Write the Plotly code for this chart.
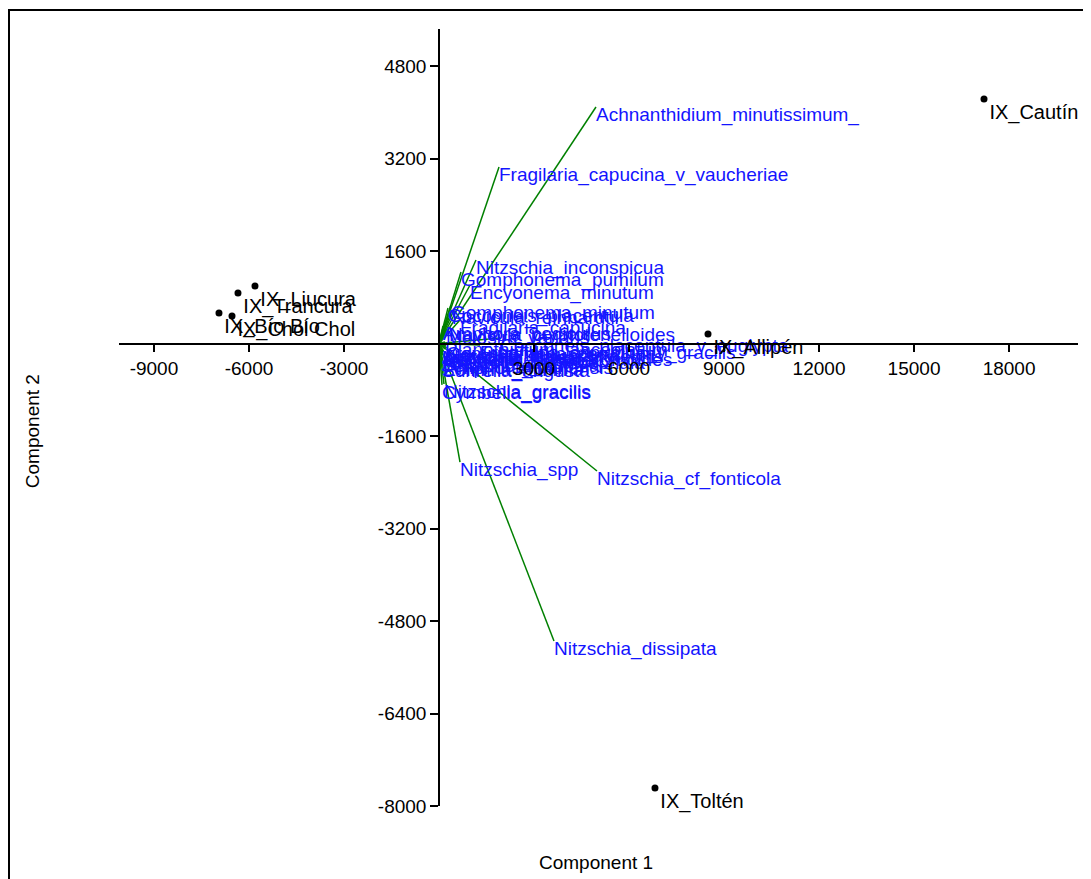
import plotly.graph_objects as go

# ---- Sample scores (Component 1, Component 2) ----
sample_names = ["IX_Cautín", "IX_Toltén", "IX_Allipén", "IX_Liucura",
                "IX_Trancura", "IX_Bío Bío", "IX_Chol Chol"]
sample_x = [17209, 6820, 8494, -5810, -6347, -6947, -6536]
sample_y = [4230, -7690, 164, 995, 874, 528, 476]

# ---- Species loadings (biplot vectors) ----
species_names = [
    "Achnanthidium_minutissimum_", "Fragilaria_capucina_v_vaucheriae",
    "Nitzschia_inconspicua", "Gomphonema_pumilum", "Encyonema_minutum",
    "Gomphonema_minutum", "Cocconeis_placentula", "Navicula_reinhardtii",
    "Fragilaria_capucina", "Navicula_cryptotenelloides", "Amphora_pediculus",
    "Melosira_varians", "Planothidium_lanceolatum",
    "Fragilaria_capucina_v_gracilis", "Cocconeis_placentula_v_euglypta",
    "Navicula_tripunctata", "Nitzschia_palea", "Reimeria_sinuata",
    "Gomphonema_parvulum", "Navicula_cryptocephala", "Sellaphora_pupula",
    "Amphora_inariensis", "Surirella_angusta", "Achnanthes_subatomoides",
    "Nitzschia_palea_v_debilis", "Eolimna_minima",
    "Nitzschia_gracilis", "Cymbella_gracilis", "Nitzschia_spp",
    "Nitzschia_cf_fonticola", "Nitzschia_dissipata",
]
species_x = [4957, 1895, 1168, 695, 979, 379, 284, 410, 663, 316, 126,
             221, 189, 1295, 1926, 253, 95, 158, 221, 126, 63, 189, 95,
             126, 189, 126, 158, 95, 663, 4989, 3631]
species_y = [4091, 3053, 1444, 1237, 1012, 662, 614, 579, 407, 285, 303,
             233, 26, -26, 95, -78, -112, -147, -43, -199, -251, -285,
             -337, -147, -95, -310, -700, -715, -2050, -2206, -5146]

# axis ticks
x_ticks = [-9000, -6000, -3000, 3000, 6000, 9000, 12000, 15000, 18000]
y_ticks = [4800, 3200, 1600, -1600, -3200, -4800, -6400, -8000]

x_range = [-10104, 20177]
y_range = [-8000, 5440]

FONT = "Liberation Sans, Arial, sans-serif"

fig = go.Figure()

# vectors from origin
lx, ly = [], []
for vx, vy in zip(species_x, species_y):
    lx += [0, vx, None]
    ly += [0, vy, None]
fig.add_trace(go.Scatter(x=lx, y=ly, mode="lines",
                         line=dict(color="#008000", width=1.5),
                         hoverinfo="skip", showlegend=False))

# species labels
fig.add_trace(go.Scatter(x=species_x, y=species_y, mode="text",
                         text=species_names, textposition="bottom right",
                         textfont=dict(family=FONT, size=19, color="#1414ff"),
                         cliponaxis=False,
                         hoverinfo="skip", showlegend=False))

# samples
fig.add_trace(go.Scatter(x=sample_x, y=sample_y, mode="markers+text",
                         marker=dict(color="black", size=7),
                         text=sample_names, textposition="bottom right",
                         textfont=dict(family=FONT, size=20, color="black"),
                         cliponaxis=False,
                         hoverinfo="skip", showlegend=False))

xpos = (0 - y_range[0]) / (y_range[1] - y_range[0])
ypos = (0 - x_range[0]) / (x_range[1] - x_range[0])

fig.update_layout(
    width=1083, height=871,
    margin=dict(l=111, r=13, t=21, b=73),
    paper_bgcolor="white", plot_bgcolor="white",
    font=dict(family=FONT, size=19, color="black"),
    xaxis=dict(range=x_range, anchor="free", position=xpos,
               showgrid=False, zeroline=False, showline=True,
               linecolor="black", linewidth=1.5,
               ticks="outside", ticklen=8, tickwidth=1.5, tickcolor="black",
               tickvals=x_ticks, ticktext=[str(v) for v in x_ticks],
               tickfont=dict(family=FONT, size=19, color="black")),
    yaxis=dict(range=y_range, anchor="free", position=ypos,
               showgrid=False, zeroline=False, showline=True,
               linecolor="black", linewidth=1.5,
               ticks="outside", ticklen=8, tickwidth=1.5, tickcolor="black",
               tickvals=y_ticks, ticktext=[str(v) for v in y_ticks],
               tickfont=dict(family=FONT, size=19, color="black")),
    annotations=[
        dict(text="Component 1", xref="paper", yref="paper", x=0.497, y=-0.073,
             xanchor="center", yanchor="middle", showarrow=False,
             font=dict(family=FONT, size=19, color="black")),
        dict(text="Component 2", xref="paper", yref="paper", x=-0.09, y=0.482,
             xanchor="center", yanchor="middle", showarrow=False, textangle=-90,
             font=dict(family=FONT, size=19, color="black")),
    ],
    shapes=[dict(type="rect", xref="paper", yref="paper",
                 x0=-0.1147, x1=1.2, y0=-0.3, y1=1.0245,
                 line=dict(color="black", width=2))],
)

fig.write_html("out.html", config={"displayModeBar": False})
